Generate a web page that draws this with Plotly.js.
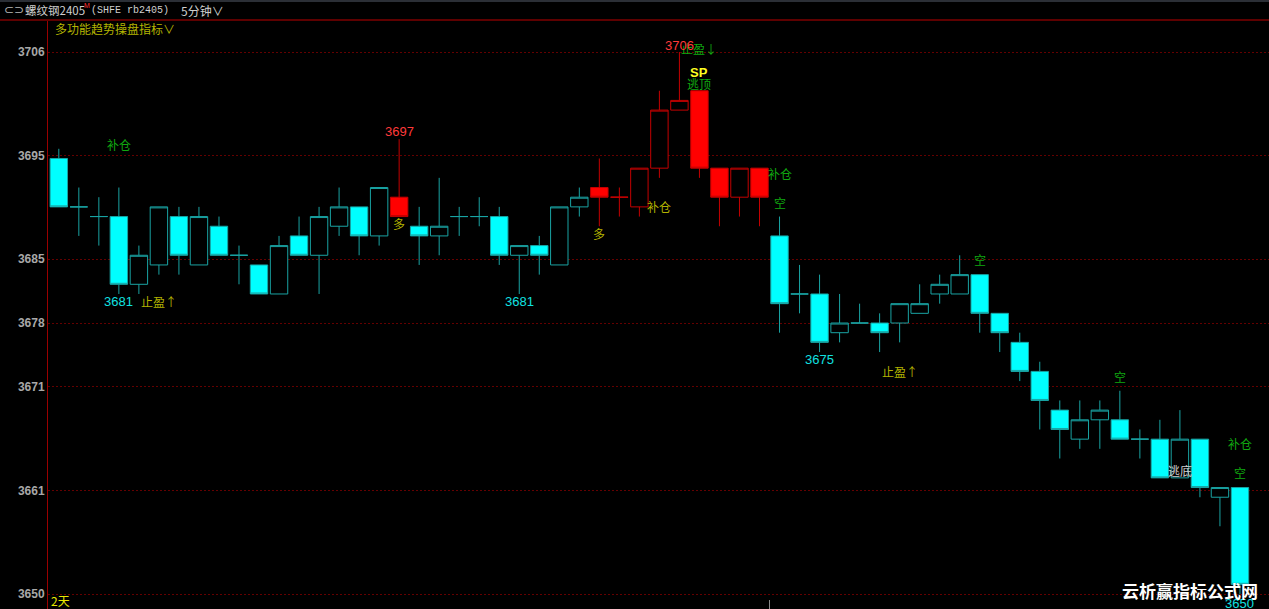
<!DOCTYPE html>
<html>
<head>
<meta charset="utf-8">
<script src="https://cdn.plot.ly/plotly-3.0.1.min.js"></script>
<style>
html,body{margin:0;padding:0;background:#000;}
#chart{width:1269px;height:609px;}
</style>
</head>
<body>
<div id="chart"></div>
<script>
// ---- data ----
const idx   = [0,1,2,3,4,5,6,7,8,9,10,11,12,13,14,15,16,17,18,19,20,21,22,23,24,25,26,27,28,29,30,31,32,33,34,35,36,37,38,39,40,41,42,43,44,45,46,47,48,49,50,51,52,53,54,55,56,57,58,59];
const open  = [3695,3690,3689,3689,3682,3684,3689,3684,3688,3685,3684,3681,3687,3685,3688,3690,3687,3691,3688,3687,3689,3689,3689,3685,3686,3684,3690,3692,3691,3690,3694,3700,3702,3694,3691,3694,3687,3681,3681,3677,3678,3678,3678,3679,3681,3681,3683,3679,3676,3673,3669,3666,3668,3668,3666,3666,3662,3666,3660,3661];
const high  = [3696,3692,3691,3692,3686,3690,3690,3690,3689,3686,3684,3687,3689,3690,3692,3690,3692,3697,3690,3693,3690,3691,3690,3686,3687,3690,3692,3695,3692,3694,3702,3706,3702,3694,3694,3694,3689,3684,3683,3681,3680,3679,3680,3682,3683,3685,3683,3679,3677,3674,3670,3670,3670,3671,3667,3668,3669,3666,3661,3661];
const low   = [3690,3687,3686,3681,3681,3683,3683,3684,3685,3682,3681,3681,3685,3681,3687,3685,3686,3689,3684,3685,3687,3688,3684,3681,3683,3684,3689,3688,3689,3689,3693,3700,3693,3688,3689,3688,3677,3679,3675,3676,3678,3675,3676,3679,3680,3681,3677,3675,3672,3667,3664,3665,3665,3666,3664,3662,3662,3660,3657,3650];
const close = [3690,3690,3689,3682,3685,3690,3685,3689,3685,3685,3681,3686,3685,3689,3690,3687,3692,3689,3687,3688,3689,3689,3685,3686,3685,3690,3691,3691,3691,3694,3700,3701,3694,3691,3694,3691,3680,3681,3676,3678,3678,3677,3680,3680,3682,3683,3679,3677,3673,3670,3667,3668,3669,3666,3666,3662,3666,3661,3661,3651];
// trend state colouring of each candle: c = cyan, r = red
const trend = ['c','c','c','c','c','c','c','c','c','c','c','c','c','c','c','c','c','r','c','c','c','c','c','c','c','c','c','r','r','r','r','r','r','r','r','r','c','c','c','c','c','c','c','c','c','c','c','c','c','c','c','c','c','c','c','c','c','c','c','c'];

// y-axis grid levels and their printed labels
const gridVals   = [3706, 3695.3, 3684.6, 3678, 3671.4, 3660.7, 3650];
const gridLabels = ['3706','3695','3685','3678','3671','3661','3650'];

// signal texts on candles: [candle index, text, kind, price level]
const signals = [
  [3,  '补仓', 'green', 3696.4],
  [3,  '3681', 'cyan',  3680.2],
  [5,  '止盈↑', 'olive', 3680.2],
  [17, '3697', 'red',   3697.8],
  [17, '多',   'olive', 3688.3],
  [23, '3681', 'cyan',  3680.2],
  [27, '多',   'olive', 3687.3],
  [30, '补仓', 'olive', 3690.0],
  [32, '止盈↓', 'green', 3706.4],
  [31, '3706', 'red',   3706.7],
  [32, 'SP',   'yellow',3703.9],
  [32, '逃顶', 'green', 3702.7],
  [36, '补仓', 'green', 3693.4],
  [36, '空',   'green', 3690.5],
  [38, '3675', 'cyan',  3674.2],
  [42, '止盈↑', 'olive', 3673.0],
  [46, '空',   'green', 3684.6],
  [53, '空',   'green', 3672.5],
  [56, '逃底', 'gray',  3662.8],
  [59, '补仓', 'green', 3665.5],
  [59, '空',   'green', 3662.6],
  [59, '3650', 'cyan',  3649.0]
];

// ---- styling ----
const C = {
  cyan:'#00ffff', teal:'#19a3a3', redFill:'#ff0000', redLine:'#c40000',
  green:'#10a810', olive:'#b2b200', yellow:'#ffff20', red:'#ff3a3a',
  cyanTxt:'#10e0e0'
};
const kindFont = {
  green: {color:C.green, family:'Noto Sans CJK SC', size:12},
  olive: {color:C.olive, family:'Noto Sans CJK SC', size:12},
  yellow:{color:C.yellow, family:'Liberation Sans', size:13, weight:'bold'},
  red:   {color:C.red, family:'Liberation Sans', size:13},
  cyan:  {color:C.cyanTxt, family:'Liberation Sans', size:13},
  gray:  {color:'#d0d0d0', family:'Noto Sans CJK SC', size:12}
};

function pick(group){
  const o={x:[],open:[],high:[],low:[],close:[]};
  idx.forEach((i,k)=>{ if(trend[k]===group){ o.x.push(i); o.open.push(open[k]); o.high.push(high[k]); o.low.push(low[k]); o.close.push(close[k]); }});
  return o;
}
const cy = pick('c'), rd = pick('r');

const traces = [
  Object.assign({type:'candlestick', name:'c', whiskerwidth:0, hoverinfo:'skip',
    increasing:{line:{color:C.teal, width:1}, fillcolor:'#000000'},
    decreasing:{line:{color:C.teal, width:1}, fillcolor:C.cyan},
    showlegend:false}, cy),
  Object.assign({type:'candlestick', name:'r', whiskerwidth:0, hoverinfo:'skip',
    increasing:{line:{color:C.redLine, width:1}, fillcolor:'#000000'},
    decreasing:{line:{color:C.redLine, width:1}, fillcolor:C.redFill},
    showlegend:false}, rd)
];

// plot area: x 48..1269, y 20..609
const L=48, T=20, W=1269-48, H=609-20;
const px = v => (v - L)/W;           // pixel x -> paper
const py = v => (609 - v)/H;         // pixel y -> paper

const annotations = signals.map(s => ({
  x:s[0], y:s[3], xref:'x', yref:'y', text:s[1], showarrow:false,
  xanchor:'center', yanchor:'middle', font:kindFont[s[2]]
}));

// header & misc texts
annotations.push(
  {xref:'paper', yref:'paper', x:px(2), y:py(10), xanchor:'left', yanchor:'middle', showarrow:false,
   text:'⊂⊃', font:{color:'#b8b8b8', size:12, family:'DejaVu Sans'}},
  {xref:'paper', yref:'paper', x:px(23), y:py(10), xanchor:'left', yanchor:'middle', showarrow:false,
   text:'螺纹钢2405', font:{color:'#cfcfcf', size:11.5, family:'Noto Sans CJK SC'}},
  {xref:'paper', yref:'paper', x:px(82), y:py(6), xanchor:'left', yanchor:'middle', showarrow:false,
   text:'M', font:{color:'#ff3030', size:7, family:'Liberation Sans'}},
  {xref:'paper', yref:'paper', x:px(89), y:py(10), xanchor:'left', yanchor:'middle', showarrow:false,
   text:'(SHFE rb2405)', font:{color:'#cfcfcf', size:10, family:'Liberation Mono'}},
  {xref:'paper', yref:'paper', x:px(179), y:py(10), xanchor:'left', yanchor:'middle', showarrow:false,
   text:'5分钟∨', font:{color:'#cfcfcf', size:12, family:'Noto Sans CJK SC'}},
  {xref:'paper', yref:'paper', x:px(53), y:py(28), xanchor:'left', yanchor:'middle', showarrow:false,
   text:'多功能趋势操盘指标∨', font:{color:'#b4b400', size:12, family:'Noto Sans CJK SC'}},
  {xref:'paper', yref:'paper', x:px(49), y:py(600), xanchor:'left', yanchor:'middle', showarrow:false,
   text:'2天', font:{color:'#e8e800', size:12, family:'Noto Sans CJK SC'}},
  {xref:'paper', yref:'paper', x:px(1190), y:py(590), xanchor:'center', yanchor:'middle', showarrow:false,
   text:'云析赢指标公式网', font:{color:'#ffffff', size:17, family:'Noto Sans CJK SC', weight:'bold'}}
);

const layout = {
  width:1269, height:609,
  paper_bgcolor:'#000000', plot_bgcolor:'#000000',
  margin:{l:L, r:0, t:T, b:0, pad:0},
  showlegend:false,
  boxgap:0.13, boxgroupgap:0,
  xaxis:{range:[-0.54, 60.45], showgrid:false, zeroline:false, showticklabels:false, ticks:'',
         showline:false, rangeslider:{visible:false}, fixedrange:true},
  yaxis:{range:[3648.45, 3709.31], tickmode:'array', tickvals:gridVals, ticktext:gridLabels,
         showgrid:true, gridcolor:'#640000', griddash:'2px,2px', gridwidth:1, zeroline:false,
         showline:true, linecolor:'#9a0000', linewidth:1, ticks:'',
         tickfont:{color:'#a8a8a8', size:12, family:'Liberation Sans', weight:'bold'}, fixedrange:true},
  shapes:[
    {type:'rect', xref:'paper', yref:'paper', x0:px(0), x1:1, y0:py(2), y1:py(0), fillcolor:'#2b2f36', line:{width:0}},
    {type:'line', xref:'paper', yref:'paper', x0:px(0), x1:1, y0:1, y1:1, line:{color:'#5e0000', width:2}},
    {type:'line', xref:'x', yref:'paper', x0:35.5, x1:35.5, y0:0, y1:py(600), line:{color:'#8a8a8a', width:1}}
  ],
  annotations:annotations
};

Plotly.newPlot('chart', traces, layout, {displayModeBar:false, staticPlot:true});
</script>
</body>
</html>
